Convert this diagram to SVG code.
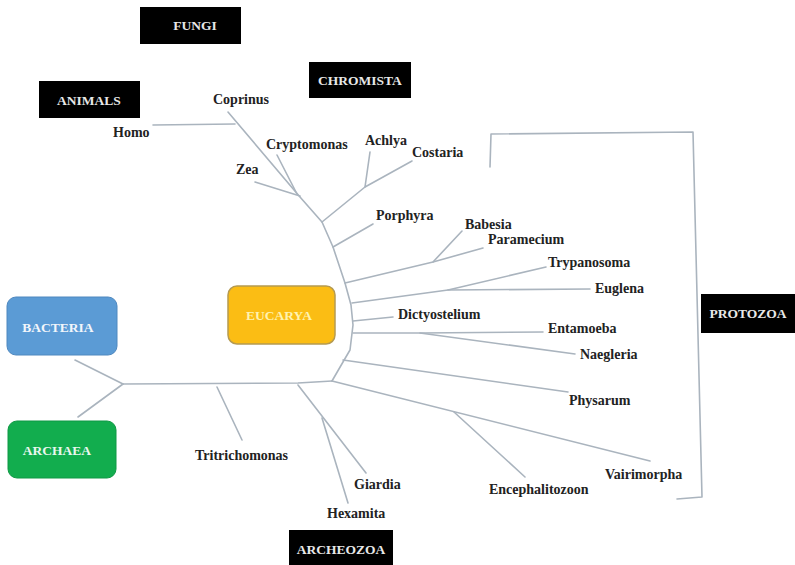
<svg xmlns="http://www.w3.org/2000/svg" width="795" height="565" viewBox="0 0 795 565">
<style>
.ln{fill:none;stroke:#aab4be;stroke-width:1.6;stroke-linejoin:round;stroke-linecap:round}
.lb{font-family:"Liberation Serif","Times New Roman",serif;font-weight:bold;font-size:14px;fill:#222}
.bk{fill:#000}
.bt{font-family:"Liberation Serif","Times New Roman",serif;font-weight:bold;font-size:13.5px;fill:#e8e8e8;text-anchor:middle}
.ct{font-family:"Liberation Serif","Times New Roman",serif;font-weight:bold;font-size:13.5px;text-anchor:middle}
</style>
<rect width="795" height="565" fill="#fff"/>
<g id="connectors">
<polyline class="ln" points="228,112 300,197 322,222 333,247 345,283 351,305 353,325 350,350 343,362 332,381"/>
<line class="ln" x1="153" y1="125" x2="235" y2="124"/>
<line class="ln" x1="255" y1="182" x2="300" y2="196"/>
<line class="ln" x1="277" y1="155" x2="297" y2="194"/>
<line class="ln" x1="370" y1="152" x2="365" y2="187"/>
<polyline class="ln" points="412,161 365,187 322,222"/>
<line class="ln" x1="373" y1="224" x2="333" y2="247"/>
<line class="ln" x1="462" y1="231" x2="433" y2="262"/>
<polyline class="ln" points="483,248 433,262 345,283"/>
<line class="ln" x1="546" y1="267" x2="448" y2="290"/>
<polyline class="ln" points="590,289 448,290 352,303"/>
<line class="ln" x1="353" y1="321" x2="393" y2="317"/>
<polyline class="ln" points="353,333 420,333 543,332"/>
<line class="ln" x1="420" y1="333" x2="575" y2="354"/>
<line class="ln" x1="343" y1="360" x2="568" y2="392"/>
<line class="ln" x1="332" y1="381" x2="650" y2="461"/>
<line class="ln" x1="454" y1="412" x2="525" y2="477"/>
<polyline class="ln" points="123,384 298,383 332,381"/>
<line class="ln" x1="75" y1="360" x2="123" y2="384"/>
<line class="ln" x1="123" y1="384" x2="78" y2="417"/>
<line class="ln" x1="217" y1="387" x2="242" y2="440"/>
<line class="ln" x1="298" y1="385" x2="366" y2="473"/>
<line class="ln" x1="322" y1="418" x2="348" y2="503"/>
<polyline class="ln" points="490,167 491,134 693,132 702,497 677,499"/>
</g>
<g id="fungi"><rect class="bk" x="140" y="7" width="101" height="37"/><text class="bt" x="195" y="30">FUNGI</text></g>
<g id="animals"><rect class="bk" x="39" y="81" width="101" height="37"/><text class="bt" x="89" y="105">ANIMALS</text></g>
<g id="chromista"><rect class="bk" x="309" y="62" width="102" height="36"/><text class="bt" x="360" y="85">CHROMISTA</text></g>
<g id="protozoa"><rect class="bk" x="701" y="294" width="94" height="39"/><text class="bt" x="748" y="318">PROTOZOA</text></g>
<g id="archeozoa"><rect class="bk" x="289" y="530" width="104" height="35"/><text class="bt" x="341" y="554">ARCHEOZOA</text></g>
<g id="bacteria"><rect x="7" y="297" width="110" height="58" rx="9" fill="#5b9bd5" stroke="#4f88bf" stroke-width="1"/><text class="ct" x="58" y="332" fill="#f2f6fb">BACTERIA</text></g>
<g id="archaea"><rect x="8" y="421" width="108" height="57" rx="9" fill="#12ad4e" stroke="#0f9844" stroke-width="1"/><text class="ct" x="57" y="455" fill="#e9f7ee">ARCHAEA</text></g>
<g id="eucarya"><rect x="228" y="286" width="107" height="58" rx="9" fill="#fbbd14" stroke="#b59a50" stroke-width="1.5"/><text class="ct" x="279" y="320" fill="#fff3b0">EUCARYA</text></g>
<g id="labels">
<text class="lb" x="213" y="104">Coprinus</text>
<text class="lb" x="113" y="137">Homo</text>
<text class="lb" x="266" y="149">Cryptomonas</text>
<text class="lb" x="236" y="174">Zea</text>
<text class="lb" x="365" y="145">Achlya</text>
<text class="lb" x="412" y="157">Costaria</text>
<text class="lb" x="376" y="220">Porphyra</text>
<text class="lb" x="465" y="229">Babesia</text>
<text class="lb" x="488" y="244">Paramecium</text>
<text class="lb" x="548" y="267">Trypanosoma</text>
<text class="lb" x="595" y="293">Euglena</text>
<text class="lb" x="398" y="319">Dictyostelium</text>
<text class="lb" x="548" y="333">Entamoeba</text>
<text class="lb" x="580" y="359">Naegleria</text>
<text class="lb" x="569" y="405">Physarum</text>
<text class="lb" x="605" y="479">Vairimorpha</text>
<text class="lb" x="489" y="494">Encephalitozoon</text>
<text class="lb" x="195" y="460">Tritrichomonas</text>
<text class="lb" x="354" y="489">Giardia</text>
<text class="lb" x="327" y="518">Hexamita</text>
</g>
</svg>
